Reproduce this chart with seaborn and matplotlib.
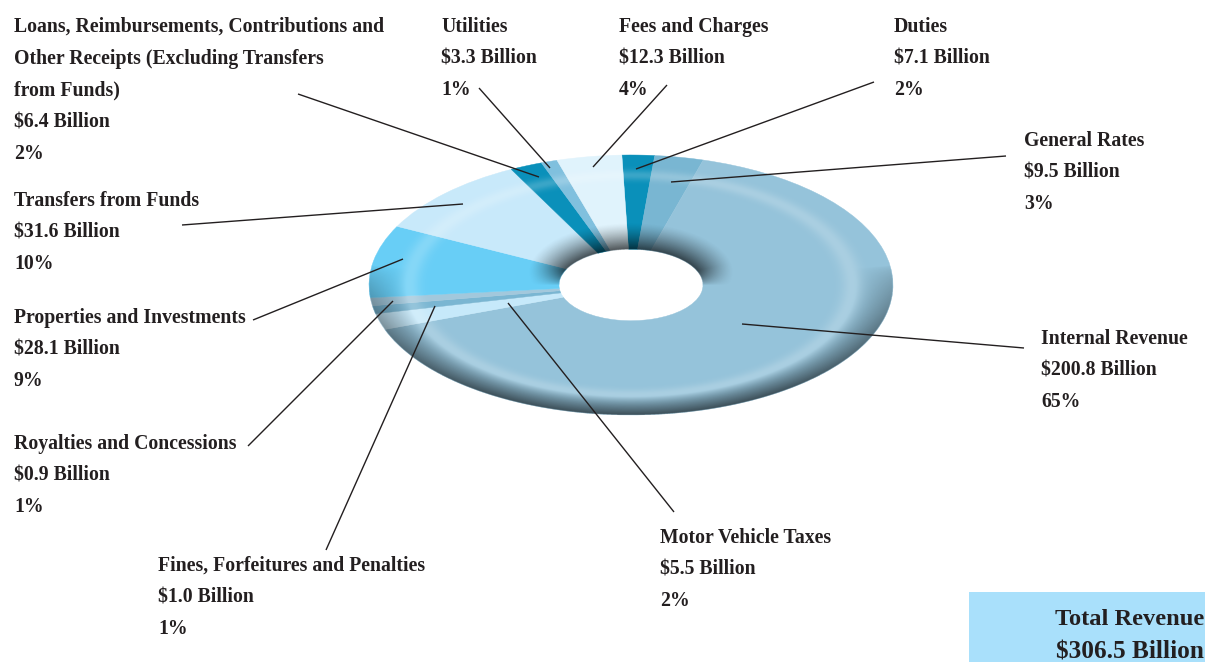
# Total revenue doughnut, squashed into an ellipse with some shading on top
import numpy as np
import matplotlib
matplotlib.use("Agg")
import matplotlib.pyplot as plt
import seaborn as sns

# data, clockwise from the top of the ring
label_lines = [
    ["Duties"],
    ["General Rates"],
    ["Internal Revenue"],
    ["Motor Vehicle Taxes"],
    ["Fines, Forfeitures and Penalties"],
    ["Royalties and Concessions"],
    ["Properties and Investments"],
    ["Transfers from Funds"],
    ["Loans, Reimbursements, Contributions and",
     "Other Receipts (Excluding Transfers",
     "from Funds)"],
    ["Utilities"],
    ["Fees and Charges"],
]
billions = [7.1, 9.5, 200.8, 5.5, 1.0, 0.9, 28.1, 31.6, 6.4, 3.3, 12.3]
percents = [2, 3, 65, 2, 1, 1, 9, 10, 2, 1, 4]
total_label = "Total Revenue"
total_value = "$306.5 Billion"

# layout, in pixels of the final image
W, H = 1205, 662
ring_left, ring_right, ring_top, ring_bottom = 369, 893, 155, 415
hole_ratio = 72 / 262
text_x = [894, 1024, 1041, 660, 158, 14, 14, 14, 14, 441, 619]
text_y = [32, 146, 344, 543, 571, 449, 323, 206, 32, 32, 32]
line_gap = 31.7
leaders = [
    ((874, 82), (636, 169)),
    ((1006, 156), (671, 182)),
    ((1024, 348), (742, 324)),
    ((674, 512), (508, 303)),
    ((326, 550), (435, 306)),
    ((248, 446), (393, 301)),
    ((253, 320), (403, 259)),
    ((182, 225), (463, 204)),
    ((298, 94), (539, 177)),
    ((479, 88), (550, 168)),
    ((667, 85), (593, 167)),
]

sns.set_theme(style="white")
plt.rcParams["font.family"] = ["Liberation Serif", "DejaVu Serif"]
plt.rcParams["font.weight"] = "bold"

colors = sns.color_palette([
    "#0a90ba", "#79b6d2", "#95c3da", "#c6e9fa", "#7ab6d2", "#a2c8dc",
    "#68cef6", "#c8e9fa", "#0a90ba", "#80c0de", "#e0f3fc",
])

fig = plt.figure(figsize=(W / 100, H / 100), dpi=100, facecolor="white")

# the ring itself
ax = fig.add_axes([ring_left / W, 1 - ring_bottom / H,
                   (ring_right - ring_left) / W, (ring_bottom - ring_top) / H])
wedges, _ = ax.pie(percents, colors=colors, startangle=92, counterclock=False, radius=1,
                   wedgeprops=dict(width=1 - hole_ratio, linewidth=0.3))
for w in wedges:
    w.set_edgecolor(w.get_facecolor())

# shading laid over the wedges: rim shadow, hole shadow and a soft light band
xx, yy = np.meshgrid(np.linspace(-1, 1, 1400), np.linspace(-1, 1, 1400))
rr = np.hypot(xx, yy)
sin_t = yy / np.maximum(rr, 1e-6)

rim = np.clip((rr - 0.86) / 0.14, 0, 1) ** 0.9 * np.clip(0.15 - sin_t, 0, 1) ** 0.6 * 0.6
reach = 0.38 + 0.10 * np.clip(sin_t, 0, 1)
hole = np.clip((reach - rr) / (reach - hole_ratio), 0, 1) ** 1.3 * np.clip(sin_t * 2.5, 0, 1) ** 0.7 * 0.66
dark = 1 - (1 - rim) * (1 - hole)
light = 0.2 * np.exp(-((rr - 0.845) / 0.04) ** 2)

alpha = dark + light * (1 - dark)
shade = np.where(dark + light > 0, light / np.maximum(dark + light, 1e-6), 0)
rgba = np.zeros(xx.shape + (4,))
rgba[..., 0] = shade
rgba[..., 1] = shade
rgba[..., 2] = shade
rgba[..., 3] = alpha * ((rr < 1) & (rr > hole_ratio))
ax.imshow(rgba, extent=(-1, 1, -1, 1), origin="lower", zorder=5, interpolation="bilinear")
ax.set_aspect("auto")
ax.set_xlim(-1, 1)
ax.set_ylim(-1, 1)
ax.axis("off")

# everything else sits on a full size overlay
over = fig.add_axes([0, 0, 1, 1], facecolor="none")
over.set_xlim(0, W)
over.set_ylim(H, 0)
over.axis("off")

for start, end in leaders:
    over.plot([start[0], end[0]], [start[1], end[1]], color="#231f20", lw=1.0,
              solid_capstyle="butt")

text_color = "#231f20"
for lines, bn, pct, x, y in zip(label_lines, billions, percents, text_x, text_y):
    rows = lines + [f"${bn:.1f} Billion", f"{pct}%"]
    for i, row in enumerate(rows):
        over.text(x, y + i * line_gap, row, fontsize=14.2, fontweight="bold",
                  color=text_color, va="baseline", ha="left")

# total box, bottom right corner
over.fill_between([969, W], 592, H, color="#a9e0fb", lw=0)
over.text(1204, 625, total_label, fontsize=17.6, fontweight="bold", color=text_color,
          va="baseline", ha="right")
over.text(1204, 659, total_value, fontsize=18.2, fontweight="bold", color=text_color,
          va="baseline", ha="right")

fig.savefig("out.png", dpi=100)
